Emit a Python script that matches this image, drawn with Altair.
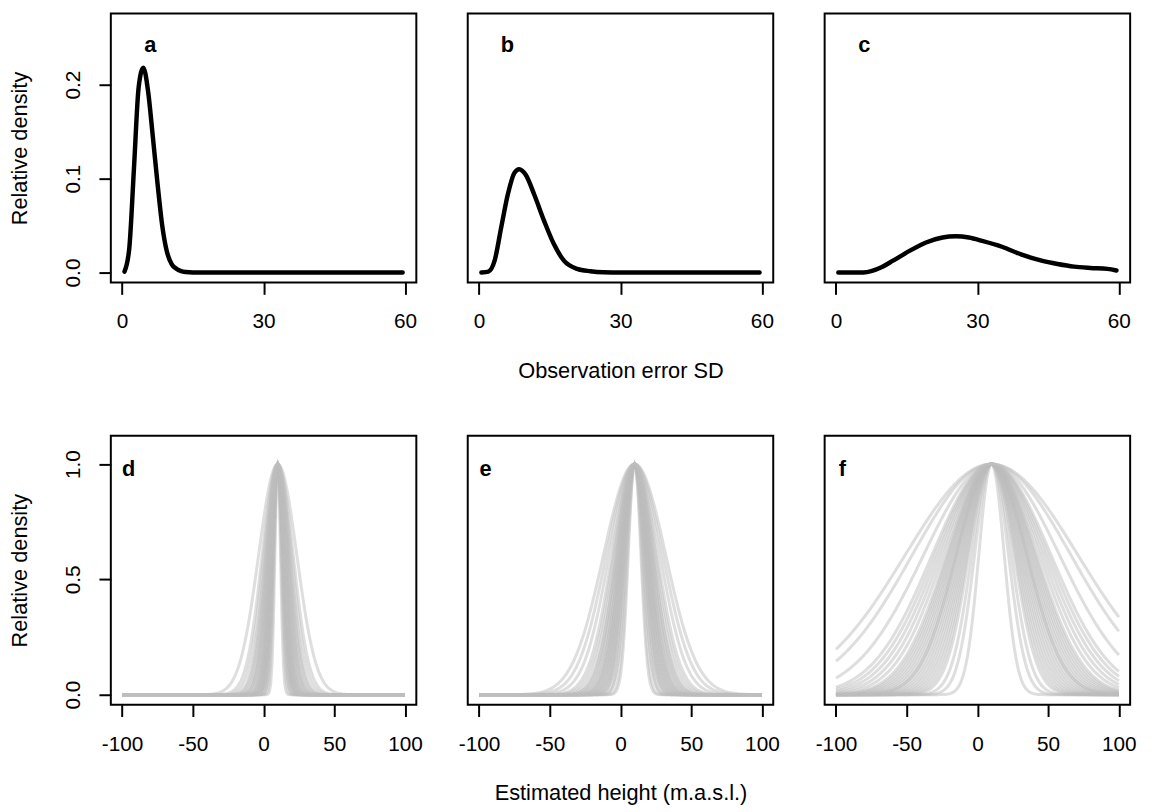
import altair as alt
import pandas as pd
import numpy as np

# ---- top row: posterior densities of the observation error SD ----
a_x = [0.5, 1.5, 2.5, 3.5, 4.5, 5.5, 6.5, 7.5, 8.5, 9.5, 10.5, 11.5, 12.5, 13.5, 15, 20, 30, 40, 50, 59.5]
a_y = [0.001, 0.025, 0.11, 0.197, 0.218, 0.193, 0.145, 0.095, 0.05, 0.022, 0.009, 0.004, 0.0015, 0.0005, 0, 0, 0, 0, 0, 0]

b_x = [0.5, 2, 3.3, 4.7, 6.1, 7.5, 8.5, 9.9, 11.7, 13.8, 15.9, 18, 20.8, 23.6, 26.4, 30, 40, 50, 59.5]
b_y = [0.0, 0.001, 0.0126, 0.048, 0.083, 0.106, 0.110, 0.104, 0.083, 0.055, 0.030, 0.0126, 0.0039, 0.0014, 0.0003, 0, 0, 0, 0]

c_x = [0.5, 5.8, 9.65, 12.1, 15.6, 19.1, 22.6, 25.4, 28.2, 31, 35.2, 39.4, 43.6, 47, 50.5, 54, 57.6, 59.5]
c_y = [0.0, 0.0, 0.0056, 0.0126, 0.023, 0.032, 0.0372, 0.0385, 0.0372, 0.0337, 0.0274, 0.019, 0.0126, 0.0091, 0.0063, 0.0049, 0.0039, 0.0021]

# ---- bottom row: observation error SD of each drawn curve ----
sd_d = [2, 2.5, 3, 3, 3.5, 3.5, 4, 4, 4, 4, 4.5, 4.5, 4.5, 5, 5, 5, 5.5, 5.5, 6, 6,
        6.5, 7, 7, 7.5, 8, 8.5, 9, 10, 11, 13.5]
sd_e = [4.5, 5, 6, 6, 7, 7, 7.5, 8, 8, 8.5, 9, 9, 9.5, 10, 10, 10.5, 11, 11, 12, 12,
        13, 13, 14, 15, 16, 18, 20, 22]
sd_f = [9, 12, 14, 16, 17, 18, 19, 20, 21, 22, 23, 24, 25, 25, 26, 27, 28, 29, 30, 31,
        32, 34, 36, 38, 40, 42, 48, 56, 61]
centre = 10
grid_x = list(range(-100, 101, 1))

FONT = "Liberation Sans"
FS = 22
LFS = 21
W, H = 309, 272
LABEL_EXPR = "'' + datum.value"


def y_axis(values):
    return alt.Axis(values=values, format=".1f", title="Relative density",
                    labelAngle=270, labelAlign="center", labelBaseline="alphabetic",
                    labelPadding=20, titleAngle=270, titleX=-85, titleY=H / 2,
                    titleAlign="center", titleBaseline="alphabetic")


def x_axis(values, xtitle):
    kw = dict(values=values, title=xtitle, labelExpr=LABEL_EXPR)
    if xtitle:
        kw.update(titleX=W / 2, titleY=96, titleAlign="center", titleBaseline="alphabetic")
    return alt.Axis(**kw)


def letter_mark(letter, px, py):
    return alt.Chart(pd.DataFrame({"t": [letter]})).mark_text(
        font=FONT, fontSize=FS, fontWeight="bold", align="center", baseline="middle", color="black"
    ).encode(text="t:N", x=alt.value(px), y=alt.value(py))


def top_panel(xs, ys, letter, show_y, xtitle):
    df = pd.DataFrame({"x": xs, "y": ys})
    line = alt.Chart(df).mark_line(color="black", strokeWidth=4.5, strokeCap="round", strokeJoin="round",
                                   interpolate="monotone").encode(
        x=alt.X("x:Q", scale=alt.Scale(domain=[-2.4, 62.4], nice=False, zero=False),
                axis=x_axis([0, 30, 60], xtitle)),
        y=alt.Y("y:Q", scale=alt.Scale(domain=[-0.0106, 0.2756], nice=False, zero=False),
                axis=y_axis([0, 0.1, 0.2]) if show_y else None),
    )
    return alt.layer(line, letter_mark(letter, 40, 32)).properties(width=W, height=H)


def bottom_panel(sds, letter, show_y, xtitle):
    rows = []
    for i, s in enumerate(sds):
        for xv in grid_x:
            rows.append({"curve": i, "sd": s, "x": xv})
    df = pd.DataFrame(rows)
    line = alt.Chart(df).transform_calculate(
        y=f"exp(-pow(datum.x - {centre}, 2) / (2 * datum.sd * datum.sd))"
    ).mark_line(color="#BEBEBE", strokeWidth=3, opacity=0.5).encode(
        x=alt.X("x:Q", scale=alt.Scale(domain=[-108, 108], nice=False, zero=False),
                axis=x_axis([-100, -50, 0, 50, 100], xtitle)),
        y=alt.Y("y:Q", scale=alt.Scale(domain=[-0.0432, 1.1232], nice=False, zero=False),
                axis=y_axis([0, 0.5, 1.0]) if show_y else None),
        detail="curve:N",
    )
    return alt.layer(line, letter_mark(letter, 18, 34)).properties(width=W, height=H)


chart = alt.concat(
    top_panel(a_x, a_y, "a", True, ""),
    top_panel(b_x, b_y, "b", False, "Observation error SD"),
    top_panel(c_x, c_y, "c", False, ""),
    bottom_panel(sd_d, "d", True, ""),
    bottom_panel(sd_e, "e", False, "Estimated height (m.a.s.l.)"),
    bottom_panel(sd_f, "f", False, ""),
    columns=3,
    spacing={"row": 155, "column": 52},
    bounds="flush",
).properties(
    padding={"left": 0, "top": 0, "right": 5, "bottom": 5}
).configure_view(
    stroke="black", strokeWidth=2
).configure_axis(
    labelFont=FONT, titleFont=FONT, labelFontSize=LFS, titleFontSize=FS,
    labelColor="black", titleColor="black", titleFontWeight="normal",
    tickColor="black", tickWidth=2, tickSize=12, domain=False, grid=False,
).configure_axisX(
    labelBaseline="alphabetic", labelPadding=34, labelAngle=0
)

chart.save("out.html", embed_options={"renderer": "svg", "actions": False})
